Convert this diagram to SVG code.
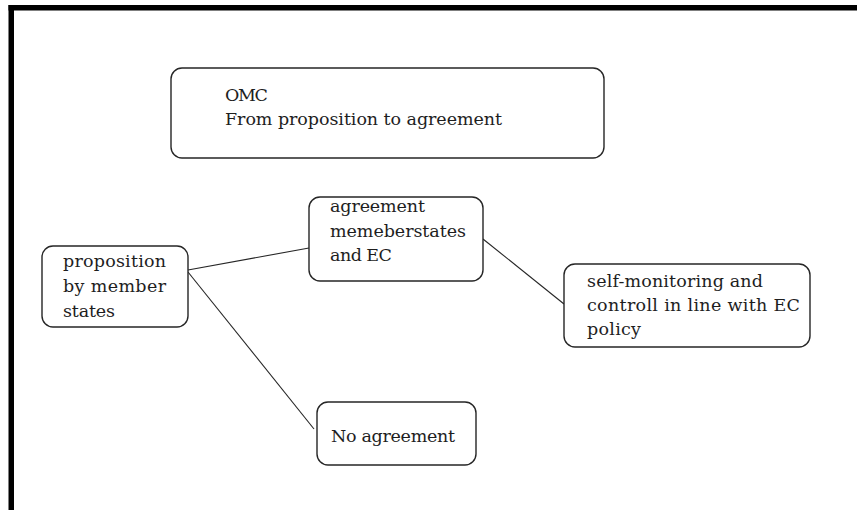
<svg xmlns="http://www.w3.org/2000/svg" width="857" height="510" viewBox="0 0 857 510">
<style>
.box{fill:#fff;stroke:#262626;stroke-width:1.4}
.t{font-family:"DejaVu Serif","Liberation Serif",serif;font-size:17.5px;fill:#1e1e1e}
.c{stroke:#262626;stroke-width:1.1;fill:none}
</style>
<rect x="0" y="0" width="857" height="510" fill="#fff"/>
<g id="frame">
<rect x="8.5" y="5" width="848.5" height="5.5" fill="#000"/>
<rect x="8.5" y="5" width="5.5" height="505" fill="#000"/>
</g>
<g id="connectors">
<line class="c" x1="188" y1="270" x2="309" y2="248"/>
<line class="c" x1="188" y1="272" x2="314" y2="429"/>
<line class="c" x1="483" y1="239" x2="564" y2="304"/>
</g>
<g id="omc">
<rect class="box" x="171" y="68" width="433" height="90" rx="11"/>
<text class="t" x="225" y="101" textLength="43">OMC</text>
<text class="t" x="225" y="125" textLength="277">From proposition to agreement</text>
</g>
<g id="proposition">
<rect class="box" x="42" y="246" width="146" height="81" rx="11"/>
<text class="t" x="63" y="267" textLength="103">proposition</text>
<text class="t" x="63" y="292" textLength="103">by member</text>
<text class="t" x="63" y="317" textLength="52">states</text>
</g>
<g id="agreement">
<rect class="box" x="309" y="197" width="174" height="84" rx="11"/>
<text class="t" x="330" y="212" textLength="95">agreement</text>
<text class="t" x="330" y="237" textLength="136">memeberstates</text>
<text class="t" x="330" y="261" textLength="62">and EC</text>
</g>
<g id="selfmonitoring">
<rect class="box" x="564" y="264" width="246" height="83" rx="11"/>
<text class="t" x="587" y="287" textLength="176">self-monitoring and</text>
<text class="t" x="587" y="311" textLength="213">controll in line with EC</text>
<text class="t" x="587" y="335" textLength="54">policy</text>
</g>
<g id="noagreement">
<rect class="box" x="317" y="402" width="159" height="63" rx="11"/>
<text class="t" x="331" y="442" textLength="124">No agreement</text>
</g>
</svg>
